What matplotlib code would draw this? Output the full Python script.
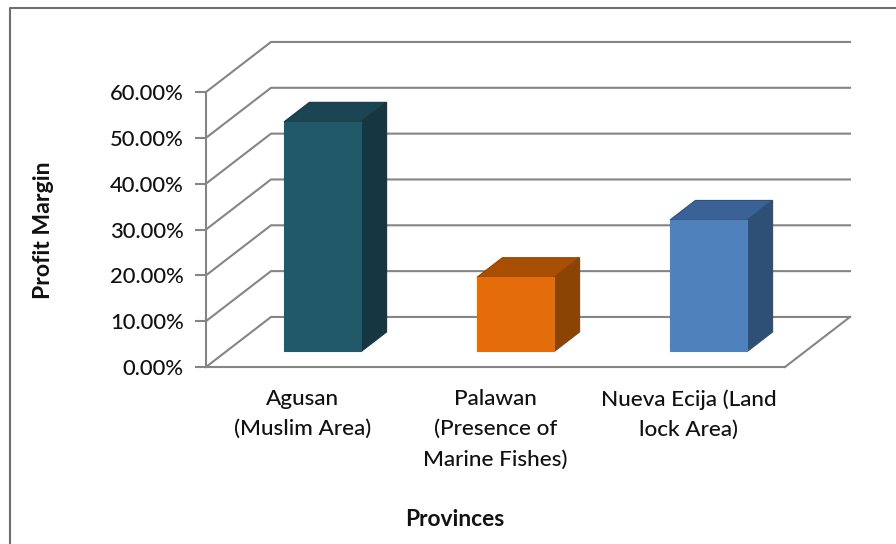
import matplotlib
matplotlib.use('Agg')
from matplotlib import pyplot as plt
from matplotlib.lines import Line2D

categories = ['Agusan\n(Muslim Area)', 'Palawan\n(Presence of\nMarine Fishes)', 'Nueva Ecija (Land\nlock Area)']
margins = [50.1, 16.2, 28.7]
yticks = [0, 10, 20, 30, 40, 50, 60]
front_colors = ['#215968', '#E46C0A', '#4F81BD']
top_colors = ['#1B4552', '#A94F04', '#3A6296']
side_colors = ['#153741', '#8C4404', '#2E5077']

W, H = 896, 544
GRID = '#858585'

# depth of the fake 3d box, in data units
DX = 65 / 193.0
DY = 50 / 4.58
BAR_W = 0.4
D0, D1 = 0.31, 0.70

plt.rcParams['font.family'] = ['Lato', 'DejaVu Sans']

fig = plt.figure(figsize=(W / 100, H / 100), dpi=100)
ax = fig.add_axes([206 / W, 1 - 367 / H, 579 / W, 275 / H])
ax.set_xlim(0, 3)
ax.set_ylim(0, 60)

# back wall and side wall
for t in yticks:
    ax.plot([0, DX, 3 + DX], [t, t + DY, t + DY], color=GRID, lw=1.5, clip_on=False, zorder=1, solid_joinstyle='miter')
ax.plot([3, 3 + DX], [0, DY], color=GRID, lw=1.5, clip_on=False, zorder=1)

# bars with top and side faces
for i, v in enumerate(margins):
    x0 = i + 0.5 - BAR_W / 2 + D0 * DX
    x1 = x0 + BAR_W
    y0 = D0 * DY
    sx = (D1 - D0) * DX
    sy = (D1 - D0) * DY
    top = y0 + v
    ax.fill([x0, x1, x1 + sx, x0 + sx], [top, top, top + sy, top + sy], fc=top_colors[i], ec=side_colors[i], lw=0.8, clip_on=False, zorder=3)
    ax.fill([x1, x1 + sx, x1 + sx, x1], [y0, y0 + sy, top + sy, top], fc=side_colors[i], ec=side_colors[i], lw=0.8, clip_on=False, zorder=3)
    ax.bar(x0 + BAR_W / 2, v, BAR_W, bottom=y0, color=front_colors[i], edgecolor=front_colors[i], lw=0.8, clip_on=False, zorder=4)

ax.patch.set_visible(False)
for s in ['top', 'right']:
    ax.spines[s].set_visible(False)
for s in ['left', 'bottom']:
    ax.spines[s].set_color(GRID)
    ax.spines[s].set_linewidth(1.5)

ax.set_yticks(yticks)
ax.set_yticklabels(['%.2f%%' % t for t in yticks], fontsize=15.8, fontweight='medium', color='#111111')
ax.set_xticks([0.5, 1.5, 2.5])
ax.set_xticklabels(categories, fontsize=16.2, fontweight='medium', color='#111111', linespacing=1.63)
ax.tick_params(axis='y', length=8, width=1.5, color=GRID, pad=8)
ax.tick_params(axis='x', length=0, pad=16)

fig.text(455 / W, 1 - 519 / H, 'Provinces', fontsize=16.4, fontweight='bold', ha='center', va='center', color='#111111')
fig.text(43 / W, 1 - 230 / H, 'Profit Margin', fontsize=16.6, fontweight='bold', rotation=90, ha='center', va='center', color='#111111')

# picture frame, only left and top are visible
fig.add_artist(Line2D([10 / W, 10 / W, 1], [0, 1 - 8 / H, 1 - 8 / H], color='#6e6e6e', lw=1.5))

fig.savefig('out.png', dpi=100)
